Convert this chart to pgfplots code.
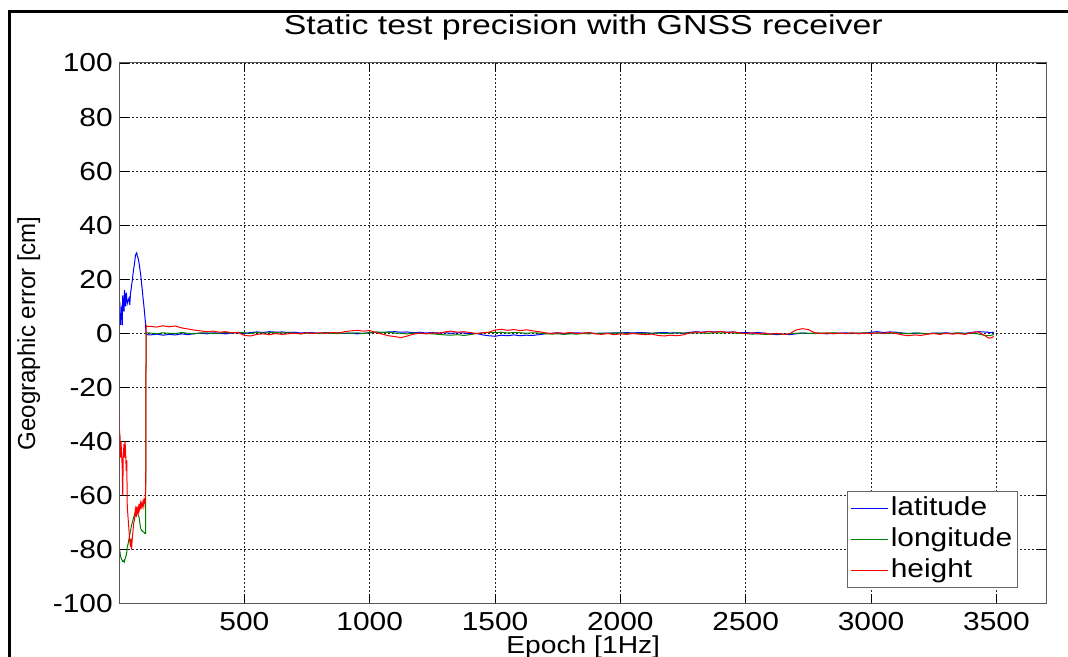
\documentclass[border=0pt]{standalone}
\usepackage{pgfplots}
\pgfplotsset{compat=1.18}
\usepackage{pgfplotstable}
\usepackage{fontspec}
\setmainfont{Liberation Sans}
\newfontfamily\fA{Liberation Sans}[FakeStretch=1.15]
\newfontfamily\fB{Liberation Sans}[FakeStretch=1.24]
\newfontfamily\fX{Liberation Sans}[FakeStretch=1.15]
\newfontfamily\fC{Liberation Sans}[FakeStretch=0.98]
\definecolor{mgreen}{rgb}{0,0.5,0}

\pgfplotstableread{
epoch lat lon hgt
0 2 -80 -20
2 5 -80 -36
4 6 -81 -38
6 3 -82.5 -46
8 10 -83 -40
10 9 -83.5 -44
13 3 -84 -50
15 14 -84.5 -60
17 12 -84.5 -45
20 8 -84 -41
22 16 -84.5 -46
24 13 -83.5 -40
26 10 -83 -43
29 15 -82 -51
31 13 -81 -47
33 11 -79 -64
36 12 -78 -68
40 13 -76 -73
43 10.5 -74.5 -77
46 15 -73 -79
48 16 -72 -76
50 17.5 -71 -80
53 19.5 -70 -76
56 22 -69 -73
59 24 -68 -70
62 26 -67 -69
64 27.5 -66.5 -66
66 29 -66.5 -65
69 29.5 -66 -68
71 29.8 -66 -64
73 28.5 -66 -67
76 28 -67 -65
78 27 -67.5 -66
80 26 -68 -63
83 24 -70 -65
86 22 -72 -63
88 20.5 -72.5 -65
90 18.5 -73 -63
93 16 -73 -64
96 13 -73.5 -62
99 10.5 -73.5 -64
102 7.5 -74 -61
104 5.5 -74 -63
106 3.5 -74 -58
107 1 -49 -49
108 0 0 3
110 -0.5 0.2 2.5
125 -0.6 0.1 2.6
150 -0.3 -0.2 2.3
175 -0.7 0.2 2.8
200 -0.4 0.0 2.4
225 -0.6 -0.1 2.7
250 -0.2 0.3 2.0
275 -0.5 0.0 1.6
300 -0.1 -0.2 1.2
325 0.1 0.1 0.9
350 -0.2 0.2 0.6
375 0.2 -0.1 0.8
400 0.0 0.1 0.4
425 -0.2 0.3 0.6
450 0.1 0.1 0.2
475 0.2 0.4 0.3
500 -0.1 0.2 -0.8
525 0.3 0.0 -1.0
550 0.5 0.3 -0.4
575 0.3 0.1 -0.2
600 0.6 0.2 -0.5
625 0.4 0.4 -0.1
650 0.5 0.1 -0.4
675 0.3 0.2 -0.2
700 0.4 0.0 0.1
725 0.1 -0.2 -0.2
750 0.3 0.1 0.2
775 0.2 0.0 -0.1
800 0.0 -0.1 0.2
825 0.3 0.2 0.0
850 0.1 0.0 0.3
875 0.2 -0.1 0.1
900 -0.1 0.1 0.6
925 0.1 0.0 0.9
950 -0.2 0.2 1.1
975 0.0 -0.1 0.8
1000 0.2 0.2 1.0
1025 0.4 0.5 0.3
1050 0.3 0.3 -0.3
1075 0.5 0.4 -0.9
1100 0.6 0.1 -1.2
1125 0.4 0.0 -1.6
1150 0.5 -0.2 -1.0
1175 0.2 0.1 -0.3
1200 0.4 0.0 0.1
1225 0.1 -0.1 -0.2
1250 0.3 -0.2 0.2
1275 0.1 -0.4 0.0
1300 0.2 -0.6 0.5
1325 0.0 -0.7 0.8
1350 0.2 -0.5 0.4
1375 0.1 -0.8 0.6
1400 -0.1 -0.5 0.3
1425 0.0 -0.1 -0.1
1450 -0.6 0.1 0.2
1475 -0.9 0.3 0.4
1500 -1.1 0.2 1.2
1525 -0.7 0.4 1.5
1550 -0.9 0.1 1.1
1575 -0.6 0.3 1.4
1600 -0.9 0.2 1.0
1625 -0.7 0.0 1.3
1650 -0.8 0.2 0.9
1675 -0.5 0.1 0.6
1700 -0.2 -0.1 0.2
1725 0.0 -0.3 -0.1
1750 0.2 -0.2 0.2
1775 -0.1 -0.4 0.0
1800 0.1 -0.2 0.3
1825 0.2 -0.3 -0.1
1850 0.0 -0.1 0.1
1875 0.2 -0.2 0.3
1900 -0.1 0.0 -0.2
1925 0.1 -0.1 -0.4
1950 0.0 0.1 -0.1
1975 0.2 0.0 -0.5
2000 0.1 0.2 -0.2
2025 0.3 0.0 -0.4
2050 0.1 0.1 -0.1
2075 0.3 -0.1 -0.3
2100 0.2 0.1 -0.5
2125 0.0 0.0 -0.3
2150 0.2 0.1 -0.8
2175 0.3 -0.1 -1.0
2200 0.1 0.0 -0.7
2225 0.2 0.2 -0.9
2250 0.0 0.1 -0.6
2275 0.3 0.0 0.1
2300 0.6 0.2 0.5
2325 0.4 0.1 0.3
2350 0.7 0.0 0.6
2375 0.5 0.2 0.4
2400 0.6 0.1 0.7
2425 0.4 0.3 0.3
2450 0.5 0.1 0.5
2475 0.2 0.0 0.2
2500 0.3 -0.1 -0.1
2525 0.1 -0.3 0.2
2550 0.3 -0.2 -0.2
2575 0.0 -0.4 0.1
2600 -0.3 -0.3 -0.3
2625 -0.5 -0.2 0.0
2650 -0.3 -0.4 -0.4
2675 -0.5 -0.2 -0.2
2700 -0.2 0.0 1.2
2725 0.1 0.1 1.7
2750 -0.1 0.0 1.4
2775 0.1 -0.1 0.2
2800 0.0 0.1 -0.1
2825 -0.2 0.0 0.2
2850 0.1 0.2 -0.2
2875 0.0 0.0 0.1
2900 0.2 -0.1 -0.1
2925 -0.1 0.1 0.2
2950 0.1 0.0 -0.2
2975 0.0 0.2 0.1
3000 0.4 0.0 -0.1
3025 0.6 0.1 0.2
3050 0.3 -0.1 0.0
3075 0.5 0.0 0.3
3100 0.4 0.2 -0.1
3125 0.1 0.0 -0.6
3150 -0.1 -0.1 -0.9
3175 0.1 0.1 -0.6
3200 0.0 0.0 -0.8
3225 -0.2 -0.2 -0.3
3250 0.1 0.0 -0.1
3275 0.0 0.1 -0.4
3300 0.2 -0.1 0.0
3325 -0.1 0.0 -0.3
3350 0.1 0.2 -0.1
3375 0.0 -0.1 -0.4
3400 0.3 0.0 0.2
3425 0.6 -0.2 0.6
3450 0.5 -0.7 -0.6
3465 0.4 -0.9 -1.6
3475 0.2 -0.8 -1.8
3490 0.4 -0.5 -1.2
}\gnss

\begin{document}
\begin{tikzpicture}
\begin{axis}[
  scale only axis,
  width=694.9pt, height=405.45pt,
  xmin=4, xmax=3700, ymin=-100, ymax=100,
  xtick={500,1000,1500,2000,2500,3000,3500},
  ytick={-100,-80,-60,-40,-20,0,20,40,60,80,100},
  scaled x ticks=false, scaled y ticks=false,
  /pgf/number format/1000 sep={},
  /pgf/number format/assume math mode=true,
  ticklabel style={font=\fA\fontsize{19.5}{20}\selectfont},
  xticklabel style={anchor=base, inner sep=0pt, yshift=-20.3pt},
  yticklabel style={anchor=east, inner sep=0pt, xshift=-5.25pt},
  tick align=inside,
  major tick length=7pt,
  tick style={black, line width=0.5pt},
  axis line style={draw=black!65, line width=0.75pt},
  grid=major,
  major grid style={black!85, line width=0.45pt, dash pattern=on 1.5pt off 1.5pt},
  title={Static test precision with GNSS receiver},
  title style={font=\fB\fontsize{20.5}{22}\selectfont, at={(axis description cs:0.5,1)}, anchor=base, yshift=15pt},
  xlabel={Epoch [1Hz]},
  xlabel style={font=\fX\fontsize{18.4}{20}\selectfont, inner sep=0pt, at={(axis description cs:0.5,0)}, anchor=base, yshift=-37.3pt},
  ylabel={Geographic error [cm]},
  ylabel style={font=\fC\fontsize{18.4}{20}\selectfont, inner sep=0pt, at={(axis description cs:-0.0985,0.5)}, anchor=center},
  legend cell align=left,
  legend image code/.code={\draw[#1, line width=0.75pt] (0pt,0pt) -- (27.6pt,0pt);},
  legend style={at={(axis description cs:0.9692,0.2083)}, anchor=north east,
    draw=black!60, line width=0.75pt, fill=white,
    font=\fA\fontsize{19.5}{20}\selectfont,
    inner xsep=2pt, inner ysep=1.1pt, row sep=0pt,
    nodes={inner ysep=2.4pt, inner xsep=2pt, text height=14.5pt, text depth=4pt}},
]
\addplot[blue, line width=0.75pt] table[x=epoch, y=lat] {\gnss};
\addlegendentry{latitude}
\addplot[mgreen, line width=0.75pt] table[x=epoch, y=lon] {\gnss};
\addlegendentry{longitude}
\addplot[red, line width=0.75pt] table[x=epoch, y=hgt] {\gnss};
\addlegendentry{height}
\end{axis}
\draw[line width=2.25pt] (-82.5pt,-60pt) -- (-82.5pt,443.7pt) -- (730pt,443.7pt);
\pgfresetboundingbox
\path[use as bounding box] (-90pt,-40.05pt) rectangle (711pt,452.7pt);
\end{tikzpicture}
\end{document}
